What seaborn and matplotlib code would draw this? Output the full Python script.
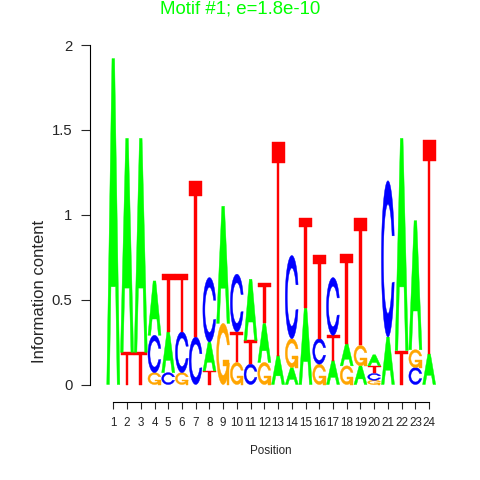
import numpy as np
import matplotlib
import matplotlib.pyplot as plt
import seaborn as sns
from matplotlib.path import Path
from matplotlib.patches import PathPatch

matplotlib.use('Agg')

sns.set_style("white")
plt.rcParams['font.family'] = ['Liberation Sans', 'DejaVu Sans']

# information content per position, one list per base
positions = list(range(1, 25))
height_A = [1.92, 1.26, 1.26, 0.32, 0.24, 0, 0, 0.17, 0.69, 0, 0.36, 0.23,
            0.17, 0.10, 0.45, 0, 0.14, 0.13, 0.11, 0.065, 0.28, 1.25, 0.76, 0.18]
height_C = [0, 0, 0, 0.22, 0.07, 0.24, 0.28, 0.38, 0, 0.34, 0.12, 0,
            0, 0.49, 0, 0.15, 0.34, 0, 0, 0.04, 0.92, 0, 0.10, 0]
height_G = [0, 0, 0, 0.07, 0, 0.07, 0, 0, 0.36, 0.13, 0, 0.13,
            0, 0.17, 0, 0.12, 0, 0.11, 0.12, 0.025, 0, 0, 0.105, 0]
height_T = [0, 0.19, 0.19, 0, 0.34, 0.34, 0.92, 0.08, 0, 0.18, 0.14, 0.24,
            1.26, 0, 0.53, 0.49, 0.15, 0.53, 0.75, 0.045, 0, 0.20, 0, 1.26]

base_colors = {'A': '#00FF00', 'C': '#0000FF', 'G': '#FFA500', 'T': '#FF0000'}
title_text = 'Motif #1; e=1.8e-10'


def letter_polys(base):
    """unit-square polygons for a letter, seqLogo style"""
    if base == 'A':
        outer = [(0, 0), (0.4, 1), (0.6, 1), (1, 0), (0.8, 0), (0.68, 0.3),
                 (0.32, 0.3), (0.2, 0), (0, 0)]
        hole = [(0.36, 0.4), (0.5, 0.75), (0.64, 0.4), (0.36, 0.4)]
        return [outer, hole[::-1]]
    if base == 'T':
        return [[(0, 1), (1, 1), (1, 0.9), (0.6, 0.9), (0.6, 0), (0.4, 0),
                 (0.4, 0.9), (0, 0.9), (0, 1)]]
    # C and G share the ring
    a1 = np.linspace(0.3 + np.pi / 2, np.pi, 100)
    a2 = np.linspace(np.pi, 1.5 * np.pi, 100)
    xl = np.r_[0.5 + 0.5 * np.sin(a1), 0.5 + 0.5 * np.sin(a2)]
    yl = np.r_[0.5 + 0.5 * np.cos(a1), 0.5 + 0.5 * np.cos(a2)]
    hmax = (0.5 + 0.5 * np.cos(a1)).max()
    xo = np.r_[xl, xl[::-1]]
    yo = np.r_[yl, 1 - yl[::-1]]
    xi1 = 0.5 + 0.35 * np.sin(a1)
    yi1 = 0.5 + 0.35 * np.cos(a1)
    keep = yi1 <= hmax
    xi1, yi1 = xi1[keep], yi1[keep]
    yi1[0] = hmax
    xi = np.r_[xi1, 0.5 + 0.35 * np.sin(a2)]
    yi = np.r_[yi1, 0.5 + 0.35 * np.cos(a2)]
    xin = np.r_[xi, xi[::-1]]
    yin = np.r_[yi, 1 - yi[::-1]]
    ring = list(zip(np.r_[xo, xin[::-1]], np.r_[yo, yin[::-1]]))
    polys = [ring]
    if base == 'G':
        r1 = (0.5 + 0.5 * np.sin(a1)).max()
        h1 = 0.4
        polys.append(list(zip([r1, 0.5, 0.5, r1 - 0.2, r1 - 0.2, r1, r1],
                              [h1, h1, h1 - 0.1, h1 - 0.1, 0, 0, h1])))
    return polys


def draw_letter(ax, base, xc, y0, h, w=0.95):
    for poly in letter_polys(base):
        pts = np.array(poly, dtype=float)
        pts[:, 0] = xc - w / 2 + w * pts[:, 0]
        pts[:, 1] = y0 + h * pts[:, 1]
        ax.add_patch(PathPatch(Path(pts, closed=True), facecolor=base_colors[base],
                               edgecolor=base_colors[base], lw=0.3))


fig = plt.figure(figsize=(4.8, 4.8), dpi=100)
ax = fig.add_axes([90 / 480, 78 / 480, 350 / 480, 357 / 480])

for i, pos in enumerate(positions):
    stack = [('A', height_A[i]), ('C', height_C[i]),
             ('G', height_G[i]), ('T', height_T[i])]
    stack = sorted([s for s in stack if s[1] > 0], key=lambda s: s[1])
    y = 0
    for base, h in stack:
        draw_letter(ax, base, pos, y, h)
        y += h

ax.set_xlim(-0.697, 24.79)
ax.set_ylim(-0.103, 2)
sns.despine(ax=ax)
ax.spines['left'].set_bounds(0, 2)
ax.spines['bottom'].set_bounds(1, 24)
for sp in ['left', 'bottom']:
    ax.spines[sp].set_color('black')
    ax.spines[sp].set_linewidth(0.8)

ax.set_yticks([0, 0.5, 1, 1.5, 2])
ax.set_yticklabels(['0', '0.5', '1', '1.5', '2'], fontsize=10.7)
ax.set_xticks(positions)
ax.set_xticklabels([str(p) for p in positions], fontsize=8.4)
ax.tick_params(axis='y', length=6.7, width=0.8, pad=6, direction='out', left=True)
ax.tick_params(axis='x', length=5, width=0.8, pad=6, direction='out', bottom=True)

ax.set_ylabel('Information content', fontsize=12)
ax.yaxis.set_label_coords(-43 / 350, (402 - 291) / 357)
ax.set_xlabel('Position', fontsize=8.4)
ax.xaxis.set_label_coords((271 - 90) / 350, -(445 - 402) / 357)
fig.text(0.5, 1 - 9 / 480, title_text, color='#00FF00', fontsize=13.4,
         ha='center', va='center')

plt.savefig('out.png', dpi=100)
